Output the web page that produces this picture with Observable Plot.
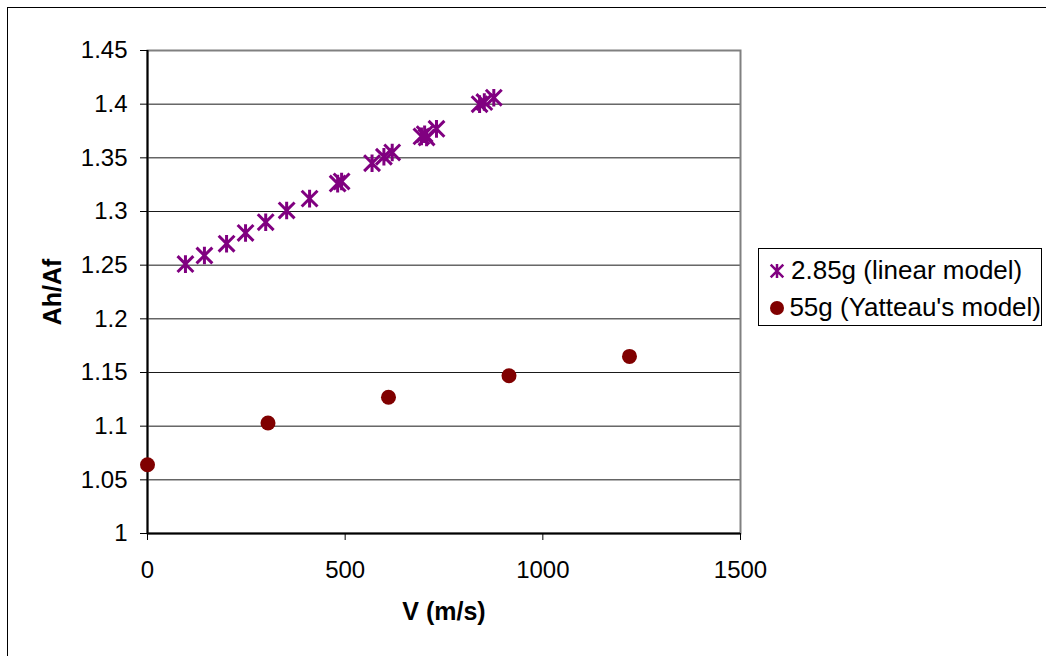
<!DOCTYPE html>
<html><head><meta charset="utf-8">
<script src="https://cdn.jsdelivr.net/npm/d3@7"></script>
<script src="https://cdn.jsdelivr.net/npm/@observablehq/plot@0.6"></script>
<style>
body{margin:0;background:#fff;font-family:"Liberation Sans",Arial,sans-serif;}
#wrap{position:relative;width:1046px;height:656px;overflow:hidden;background:#fff;}
#border{position:absolute;left:7px;top:7px;width:1100px;height:700px;border:1px solid #000;box-sizing:border-box;}
#chart{position:absolute;left:0;top:0;}
#legend{position:absolute;left:758px;top:248px;width:284px;height:78px;border:1px solid #000;box-sizing:border-box;font-size:26px;background:#fff;padding-top:3px;}
.row{display:flex;align-items:center;height:37px;white-space:nowrap;}
.row svg{margin-left:9px;margin-right:5px;}
g[aria-label="x-axis label"] text, g[aria-label="y-axis label"] text{font-weight:bold;font-size:25px;}
</style></head>
<body>
<div id="wrap"><div id="border"></div><div id="chart"></div><div id="legend"></div></div>
<script>
const seriesNames = ["2.85g (linear model)", "55g (Yatteau's model)"];
const seriesColors = ["#800080", "#800000"];
const starV = [96,144,200,248,299,352,410,481,491,568,598,619,693,701,706,731,840,852,876];
const starAhAf = [1.251,1.259,1.270,1.280,1.290,1.301,1.312,1.326,1.328,1.345,1.351,1.355,1.370,1.372,1.369,1.377,1.400,1.402,1.406];
const circV = [0,304.8,609.6,914.4,1219.2];
const circAhAf = [1.064,1.103,1.127,1.147,1.165];
const xTicks = [0,500,1000,1500];
const yTicks = [1,1.05,1.1,1.15,1.2,1.25,1.3,1.35,1.4,1.45];

const starData = starV.map((v,i)=>({V:v, A:starAhAf[i], s:seriesNames[0]}));
const circData = circV.map((v,i)=>({V:v, A:circAhAf[i], s:seriesNames[1]}));

// Excel-like star marker: X plus vertical bar
const starSymbol = {draw(ctx, size){
  const r = Math.sqrt(size/Math.PI);
  const d = r*0.9;
  ctx.moveTo(0,-r); ctx.lineTo(0,r);
  ctx.moveTo(-d,-d); ctx.lineTo(d,d);
  ctx.moveTo(-d,d); ctx.lineTo(d,-d);
}};

const fmt = d => String(+d.toFixed(2));
const chart = Plot.plot({
  width:1046, height:656,
  marginLeft:147, marginRight:306, marginTop:50, marginBottom:123,
  style:{fontFamily:'"Liberation Sans", Arial, sans-serif', fontSize:"24px", color:"#000", background:"transparent", overflow:"visible"},
  x:{domain:[0,1500]},
  y:{domain:[1,1.45]},
  marks:[
    Plot.ruleY(yTicks.filter(d=>d>1 && d<1.45), {stroke:"#1a1a1a", strokeWidth:1}),
    Plot.frame({stroke:"#808080", strokeWidth:2}),
    Plot.ruleX([0], {stroke:"#000", strokeWidth:2}),
    Plot.ruleY([1], {stroke:"#000", strokeWidth:2}),
    Plot.axisY({ticks:yTicks, tickSize:7, tickPadding:13, tickFormat:fmt, label:"Ah/Af", labelAnchor:"center", labelArrow:"none", labelOffset:104}),
    Plot.axisX({ticks:xTicks, tickSize:7, tickPadding:20, tickFormat:fmt, label:"V (m/s)", labelAnchor:"center", labelArrow:"none", labelOffset:86}),
    Plot.dot(circData, {x:"V", y:"A", r:7.5, fill:seriesColors[1], stroke:"none"}),
    Plot.dot(starData, {x:"V", y:"A", r:8.8, symbol:starSymbol, fill:"none", stroke:seriesColors[0], strokeWidth:3})
  ]
});
document.getElementById("chart").appendChild(chart);

// legend
const legend = d3.select("#legend");
const starPath = d3.symbol().type(starSymbol).size(Math.PI*49)();
const rows = [
  {name:seriesNames[0], draw:g=>g.append("path").attr("d", starPath).attr("fill","none").attr("stroke",seriesColors[0]).attr("stroke-width",2.5)},
  {name:seriesNames[1], draw:g=>g.append("path").attr("d", d3.symbol().type(d3.symbolCircle).size(Math.PI*49)()).attr("fill",seriesColors[1])}
];
rows.forEach(r=>{
  const row = legend.append("div").attr("class","row");
  const svg = row.append("svg").attr("width",18).attr("height",18);
  r.draw(svg.append("g").attr("transform","translate(9,9)"));
  row.append("span").text(r.name);
});
</script>
</body></html>
